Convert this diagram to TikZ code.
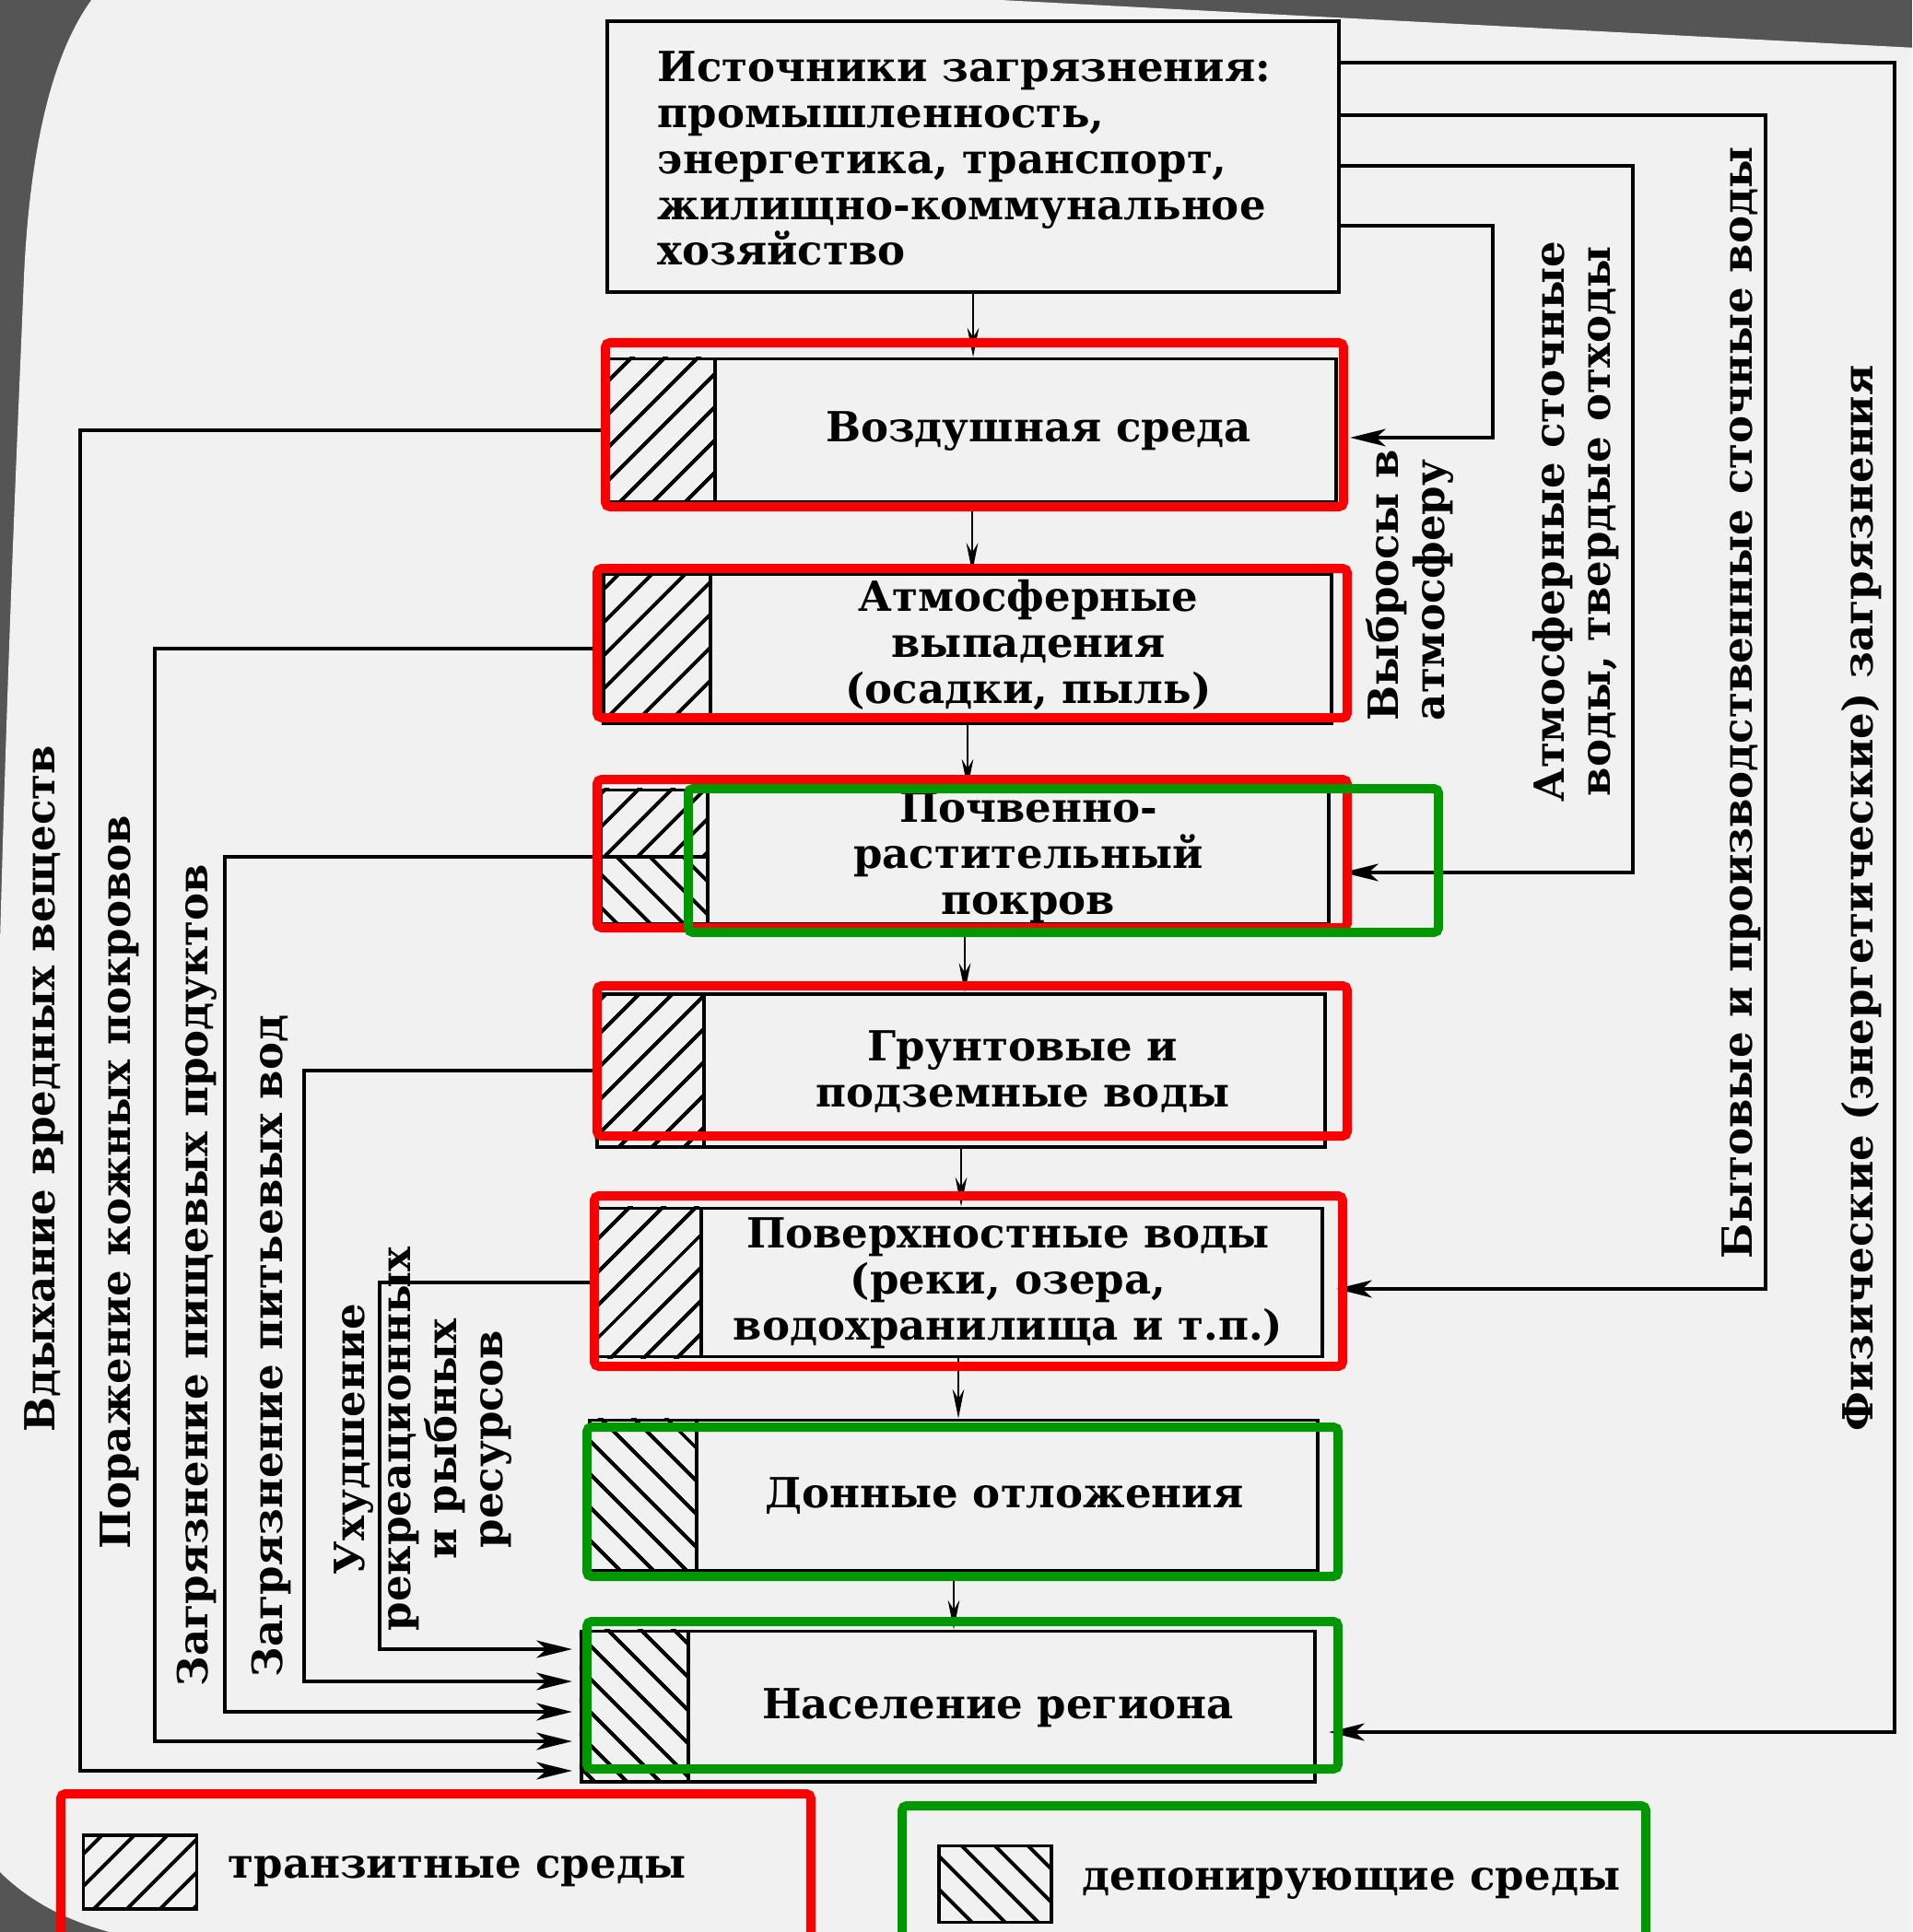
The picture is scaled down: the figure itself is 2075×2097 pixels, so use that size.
\documentclass[tikz,border=0pt]{standalone}
\usepackage{fontspec}
\setmainfont{DejaVu Serif}
\usetikzlibrary{arrows.meta, calc, positioning, patterns.meta}
\definecolor{markred}{RGB}{250,0,0}
\definecolor{markgreen}{RGB}{0,152,0}
\definecolor{paper}{RGB}{241,241,241}
\definecolor{smoke}{RGB}{85,85,85}
\tikzset{
  txt/.style={font=\bfseries\fontsize{12.8}{14.2}\selectfont, inner sep=0pt, align=center},
  medium/.style={draw, line width=1.1pt, minimum width=7.9cm, inner sep=0pt},
  transit/.style={pattern={Lines[angle=45,distance=0.26cm,line width=1.2pt]}},
  deposit/.style={pattern={Lines[angle=-45,distance=0.26cm,line width=1.2pt]}},
  flow/.style={-{Stealth[length=9pt,width=3.6pt]}, line width=0.6pt},
  feed/.style={-{Stealth[length=11pt,width=5.4pt,inset=3pt]}, line width=0.9pt},
  redbox/.style={draw=markred, line width=0.1cm, rounded corners=0.05cm},
  greenbox/.style={draw=markgreen, line width=0.1cm, rounded corners=0.05cm}
}
\newcommand\hatchstrip[2]{%
  \fill[#2] (#1.north west) rectangle ([xshift=1.18cm]#1.south west);
  \draw[line width=1.1pt] ([xshift=1.18cm]#1.north west) -- ([xshift=1.18cm]#1.south west);}

\begin{document}
\begin{tikzpicture}[x=0.01cm, y=-0.01cm]
\clip (0,0) rectangle (2075,2097);
% page and background
\fill[smoke] (0,0) rectangle (2075,2097);
\fill[paper] (103,-5) -- (990,-5) -- (2080,52) -- (2080,2100) -- (130,2100)
  .. controls (70,2085) and (30,2062) .. (-2,2030) -- (-2,1100)
  .. controls (8,700) and (20,450) .. (26,300)
  .. controls (33,150) and (60,50) .. (103,-5) -- cycle;

% media
\node[medium, minimum width=7.93cm, minimum height=2.94cm] (src) at (1056,170) {};
\node[medium, minimum height=1.55cm] (vozd) at (1055,467) {};
\node[medium, minimum height=1.62cm] (atm) at (1050,704) {};
\node[medium, minimum height=1.45cm] (pochv) at (1047,930) {};
\node[medium, minimum height=1.66cm] (grunt) at (1043,1162) {};
\node[medium, minimum height=1.61cm] (pov) at (1040,1392) {};
\node[medium, minimum height=1.63cm] (don) at (1035,1623) {};
\node[medium, minimum width=7.96cm, minimum height=1.63cm] (nas) at (1029,1852) {};

% hatching
\hatchstrip{vozd}{transit}
\hatchstrip{atm}{transit}
\hatchstrip{grunt}{transit}
\hatchstrip{pov}{transit}
\hatchstrip{don}{deposit}
\hatchstrip{nas}{deposit}
\fill[transit] (pochv.north west) rectangle ([xshift=1.18cm]pochv.west);
\fill[deposit] (pochv.west) rectangle ([xshift=1.18cm]pochv.south west);
\draw[line width=1.1pt] ([xshift=1.18cm]pochv.north west) -- ([xshift=1.18cm]pochv.south west);
\draw[line width=0.9pt] (pochv.west) -- ([xshift=1.18cm]pochv.west);

% texts
\node[txt, anchor=west, align=left] (srcT) at (713,172) {Источники загрязнения:\\промышленность,\\энергетика, транспорт,\\жилищно-коммунальное\\хозяйство};
\node[txt] (vozdT) at (1127,468) {Воздушная среда};
\node[txt] (atmT) at (1116,700) {Атмосферные\\выпадения\\(осадки, пыль)};
\node[txt] (pochvT) at (1116,931) {Почвенно-\\растительный\\покров};
\node[txt] (gruntT) at (1110,1163) {Грунтовые и\\подземные воды};
\node[txt] (povT) at (1094,1393) {Поверхностные воды\\(реки, озера,\\водохранилища и т.п.)};
\node[txt] (donT) at (1090,1624) {Донные отложения};
\node[txt] (nasT) at (1083,1854) {Население региона};

% chain
\foreach \a/\b in {src/vozd, vozd/atm, atm/pochv, pochv/grunt, grunt/pov, pov/don, don/nas}
  \draw[flow] (\a.south) -- (\a.south |- \b.north);

% sources to media
\foreach \n/\ys/\xv/\yt in {vozd/245/1620/475, pochv/180/1772/947, pov/125/1916/1399, nas/68/2056/1880}
  \draw[feed, shorten >=0.13cm] (src.east |- 0,\ys) -| (\xv,\yt) -- (\n.east |- 0,\yt);
\node[txt, rotate=90, align=left] (emis) at (1530,635) {Выбросы в\\атмосферу};
\node[txt, rotate=90] (waste) at (1710,566) {Атмосферные сточные\\воды, твердые отходы};
\node[txt, rotate=90] (sewage) at (1890,763) {Бытовые и производственные сточные воды};
\node[txt, rotate=90] (phys) at (2020,975) {Физические (энергетические) загрязнения};

% media to population
\foreach \n/\xv/\yv in {vozd/87/1922, atm/168/1890, pochv/244/1858, grunt/330/1825, pov/412/1790}
  \draw[feed, shorten >=0.08cm] (\n.west) -| (\xv,\yv) -- (nas.west |- 0,\yv);
\node[txt, rotate=90] (inhale) at (48,1182) {Вдыхание вредных веществ};
\node[txt, rotate=90] (skin) at (130,1283) {Поражение кожных покровов};
\node[txt, rotate=90] (food) at (214,1384) {Загрязнение пищевых продуктов};
\node[txt, rotate=90] (drink) at (294,1461) {Загрязнение питьевых вод};
\node[txt, rotate=90] (recr) at (459,1562) {Ухудшение\\рекреационных\\и рыбных\\ресурсов};

% legend
\node[draw, line width=1.1pt, transit, minimum width=1.23cm, minimum height=0.8cm] (legT) at (152,2032) {};
\node[txt, anchor=west] (legTtext) at (247,2031) {транзитные среды};
\node[draw, line width=1.1pt, deposit, minimum width=1.22cm, minimum height=0.83cm] (legD) at (1080,2045) {};
\node[txt, anchor=west] (legDtext) at (1174,2044) {депонирующие среды};

% highlights
\draw[redbox] (657,372) rectangle (1458,550);
\draw[redbox] (648,617) rectangle (1462,779);
\draw[redbox] (648,846) rectangle (1462,1007);
\draw[redbox] (648,1070) rectangle (1462,1233);
\draw[redbox] (645,1298) rectangle (1457,1483);
\draw[redbox] (66,1947) rectangle (880,2150);
\draw[greenbox] (747,856) rectangle (1561,1012);
\draw[greenbox] (637,1549) rectangle (1452,1711);
\draw[greenbox] (637,1760) rectangle (1452,1920);
\draw[greenbox] (979,1960) rectangle (1786,2150);
\end{tikzpicture}
\end{document}
